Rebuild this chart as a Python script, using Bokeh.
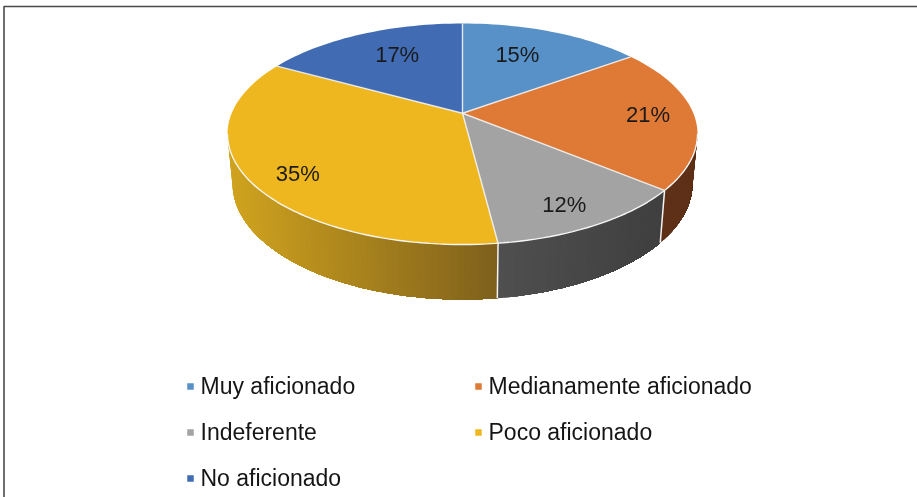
import math
from bokeh.plotting import figure
from bokeh.embed import file_html
from bokeh.resources import INLINE
from bokeh.core.properties import value
from bokeh.models import Range1d

categories = ["Muy aficionado", "Medianamente aficionado", "Indeferente", "Poco aficionado", "No aficionado"]
shares = [15, 21, 12, 35, 17]
top_colors = ["#5791C8", "#DE7936", "#A2A3A2", "#EFB71F", "#416BB3"]
wall_left = [None, "#5E3118", "#4F4F4F", "#D0A31E", None]
wall_right = [None, "#5E3118", "#3F3F3F", "#7D5F1C", None]
label_radius = [0.65, 0.80, 0.84, 0.83, 0.67]
label_nudge = [-3, 0, 2, -5, 2.6]
legend_x = [190, 478, 190, 478, 190]
legend_y = [386, 386, 432, 432, 478]

FONT = "Liberation Sans"
CX, CY, RX, RY = 462.0, 133.5, 235.0, 110.5
BX, BY, BRX, BRY = 462.0, 183.0, 230.0, 116.0
V = -0.188  # perspective shift of the pie centre


def project(r, deg):
    t = math.radians(deg)
    x, y = r * math.sin(t), -r * math.cos(t)
    d = 1 + V * y
    return (x * math.sqrt(1 - V * V) / d, (y + V) / d)


def rim_angle(deg):
    u, w = project(1, deg)
    return math.degrees(math.atan2(u, -w)) % 360


def hexrgb(h):
    return tuple(int(h[i:i + 2], 16) for i in (1, 3, 5))


def mix(a, b, f):
    ca, cb = hexrgb(a), hexrgb(b)
    return "#%02x%02x%02x" % tuple(round(ca[i] + (cb[i] - ca[i]) * f) for i in range(3))


p = figure(width=917, height=497, output_backend="svg", toolbar_location=None,
           x_range=Range1d(0, 917), y_range=Range1d(497, 0),
           min_border=0, outline_line_color=None, background_fill_color="white",
           border_fill_color="white", styles={"position": "fixed", "left": "0", "top": "0"})
p.axis.visible = False
p.grid.visible = False

# frame
p.line([3.5, 3.5, 917], [497, 6, 6], line_color="#4A4A4A", line_width=1.6)

edges = [0.0]
for s in shares:
    edges.append(edges[-1] + s * 360.0 / sum(shares))

# side walls: strips drawn left to right, each overlapping the next, so no seams show
for i in (3, 2, 1):
    n = 60
    a0, a1 = rim_angle(edges[i]), rim_angle(edges[i + 1])
    a_vis = min(a1, 270.0)
    a_start = max(a0, 90.0)
    steps = [a_vis - (a_vis - a_start) * k / n for k in range(n + 1)]
    rim_pts = []
    for a in steps:
        t = math.radians(a)
        rim_pts.append((math.sin(t), -math.cos(t)))
    lo, hi = rim_pts[0][0], rim_pts[-1][0]
    xs, ys, cs = [], [], []
    for k in range(n):
        # strip from k to the end of the slice; later strips paint over it
        part = rim_pts[k:]
        top_x = [CX + RX * u for u, w in part]
        top_y = [CY + RY * w for u, w in part]
        bot_x = [BX + BRX * u for u, w in part]
        bot_y = [BY + BRY * w for u, w in part]
        xs.append(top_x + bot_x[::-1])
        ys.append(top_y + bot_y[::-1])
        cs.append(mix(wall_left[i], wall_right[i], (part[0][0] - lo) / (hi - lo)))
    p.patches(xs, ys, fill_color=cs, line_color=None)

# white separators on the wall
for e in (edges[2], edges[3]):
    u, w = project(1, e)
    p.line([CX + RX * u, BX + BRX * u], [CY + RY * w, BY + BRY * w], line_color="#F4F4F4", line_width=1.5)

# top face
cxp, cyp = CX + RX * project(0, 0)[0], CY + RY * project(0, 0)[1]
for i, s in enumerate(shares):
    n = max(8, int(s * 2))
    sx, sy = [cxp], [cyp]
    for k in range(n + 1):
        u, w = project(1, edges[i] + (edges[i + 1] - edges[i]) * k / n)
        sx.append(CX + RX * u)
        sy.append(CY + RY * w)
    p.patch(sx, sy, fill_color=top_colors[i], line_color=None)

# white lines: spokes and near rim
for i, e in enumerate(edges[:-1]):
    u, w = project(1, e)
    p.line([cxp, CX + RX * u], [cyp, CY + RY * w], line_color="#F2F2F2", line_width=1.4, line_alpha=0.9)
rim = [math.radians(a) for a in range(90, 271, 2)]
p.line([CX + RX * math.sin(t) for t in rim], [CY - RY * math.cos(t) for t in rim],
       line_color="#F6F6F6", line_width=1.4)

# percentage labels
lx, ly, lt = [], [], []
for i, s in enumerate(shares):
    mid = (edges[i] + edges[i + 1]) / 2 + label_nudge[i]
    u, w = project(label_radius[i], mid)
    lx.append(CX + RX * u)
    ly.append(CY + RY * w - 1.5)
    lt.append(f"{s}%")
p.text(lx, ly, text=lt, text_font=value(FONT), text_font_size="22px", text_color="#1A1A1A",
       text_align="center", text_baseline="middle")

# legend
p.scatter(legend_x, legend_y, marker="square", size=6.5, fill_color=top_colors, line_color=None)
p.text([x + 10 for x in legend_x], [y - 1 for y in legend_y], text=categories, text_font=value(FONT),
       text_font_size="23px", text_color="#151515", text_align="left", text_baseline="middle")

open("out.html", "w").write(file_html(p, INLINE))
